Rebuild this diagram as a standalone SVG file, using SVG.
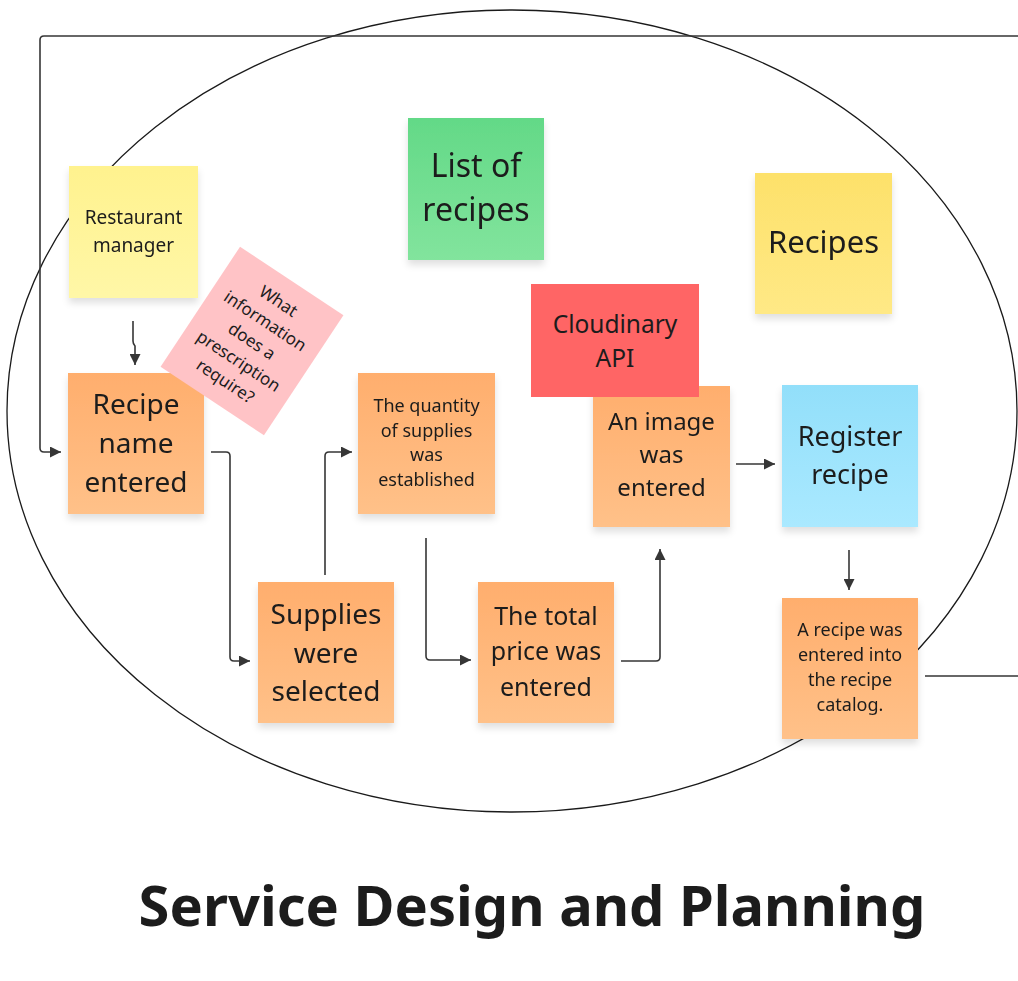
<svg xmlns="http://www.w3.org/2000/svg" width="1018" height="981" viewBox="0 0 1018 981">
<defs>
  <style>
    .t { font-family: "Noto Sans", "Open Sans", "DejaVu Sans", sans-serif; fill: #1c1c1c; text-anchor: middle; }
    .c { fill: none; stroke: #363636; stroke-width: 1.6; }
    .ca { fill: none; stroke: #363636; stroke-width: 1.6; marker-end: url(#arr); }
    .note { filter: url(#sh); }
  </style>
  <marker id="arr" viewBox="0 0 10 10" refX="10" refY="5" markerWidth="11" markerHeight="11" markerUnits="userSpaceOnUse" orient="auto">
    <path d="M0,0 L10,5 L0,10 z" fill="#363636"/>
  </marker>
  <filter id="sh" x="-20%" y="-20%" width="140%" height="150%">
    <feDropShadow dx="0" dy="5" stdDeviation="3.5" flood-color="#000" flood-opacity="0.12"/>
  </filter>
  <linearGradient id="gO" x1="0" y1="0" x2="0" y2="1"><stop offset="0" stop-color="#FFAE6D"/><stop offset="1" stop-color="#FFC189"/></linearGradient>
  <linearGradient id="gY" x1="0" y1="0" x2="0" y2="1"><stop offset="0" stop-color="#FFF28E"/><stop offset="1" stop-color="#FFF7A7"/></linearGradient>
  <linearGradient id="gY2" x1="0" y1="0" x2="0" y2="1"><stop offset="0" stop-color="#FDE16A"/><stop offset="1" stop-color="#FFE986"/></linearGradient>
  <linearGradient id="gG" x1="0" y1="0" x2="0" y2="1"><stop offset="0" stop-color="#63D987"/><stop offset="1" stop-color="#82E49D"/></linearGradient>
  <linearGradient id="gB" x1="0" y1="0" x2="0" y2="1"><stop offset="0" stop-color="#92DFFA"/><stop offset="1" stop-color="#AAE9FF"/></linearGradient>
</defs>
<rect width="1018" height="981" fill="#fff"/>

<ellipse id="boundary" cx="512" cy="411" rx="505" ry="401" fill="none" stroke="#1a1a1a" stroke-width="1.3"/>

<g id="connectors">
  <path class="ca" d="M133,321 V341 Q133,344 135,346 V365"/>
  <path class="ca" d="M211,452 H226 Q230,452 230,456 V657 Q230,661 234,661 H250"/>
  <path class="ca" d="M325,575 V456 Q325,452 329,452 H352"/>
  <path class="ca" d="M426,538 V656 Q426,660 430,660 H471"/>
  <path class="ca" d="M621,661 H656 Q660,661 660,657 V549"/>
  <path class="ca" d="M736,464 H775"/>
  <path class="ca" d="M849,550 V590"/>
  <path class="ca" d="M925,676 H1030 V36 H44 Q40,36 40,40 V448 Q40,452 44,452 H61"/>
</g>

<g id="restaurant-manager" class="note">
  <rect x="69" y="166" width="129" height="132" fill="url(#gY)"/>
  <text class="t" font-size="19" x="133.5" y="224">Restaurant</text>
  <text class="t" font-size="19" x="133.5" y="252">manager</text>
</g>

<g id="list-of-recipes" class="note">
  <rect x="408" y="118" width="136" height="142" fill="url(#gG)"/>
  <text class="t" font-size="32" x="476" y="177">List of</text>
  <text class="t" font-size="32" x="476" y="221">recipes</text>
</g>

<g id="recipes" class="note">
  <rect x="755" y="173" width="137" height="141" fill="url(#gY2)"/>
  <text class="t" font-size="31" x="823.5" y="253">Recipes</text>
</g>

<g id="recipe-name-entered" class="note">
  <rect x="68" y="373" width="136" height="141" fill="url(#gO)"/>
  <text class="t" font-size="28" x="136" y="414">Recipe</text>
  <text class="t" font-size="28" x="136" y="453">name</text>
  <text class="t" font-size="28" x="136" y="492">entered</text>
</g>

<g id="question" transform="translate(252,341) rotate(33.5)">
  <rect x="-62" y="-72" width="124" height="144" fill="#FFC3C6"/>
  <text class="t" font-size="17" x="0" y="-42">What</text>
  <text class="t" font-size="17" x="0" y="-18">information</text>
  <text class="t" font-size="17" x="0" y="6">does a</text>
  <text class="t" font-size="17" x="0" y="30">prescription</text>
  <text class="t" font-size="17" x="0" y="54">require?</text>
</g>

<g id="supplies-selected" class="note">
  <rect x="258" y="582" width="136" height="141" fill="url(#gO)"/>
  <text class="t" font-size="28" x="326" y="624">Supplies</text>
  <text class="t" font-size="28" x="326" y="663">were</text>
  <text class="t" font-size="28" x="326" y="701">selected</text>
</g>

<g id="quantity-established" class="note">
  <rect x="358" y="373" width="137" height="141" fill="url(#gO)"/>
  <text class="t" font-size="18" x="426.5" y="412">The quantity</text>
  <text class="t" font-size="18" x="426.5" y="437">of supplies</text>
  <text class="t" font-size="18" x="426.5" y="461">was</text>
  <text class="t" font-size="18" x="426.5" y="486">established</text>
</g>

<g id="total-price" class="note">
  <rect x="478" y="582" width="136" height="141" fill="url(#gO)"/>
  <text class="t" font-size="25" x="546" y="625">The total</text>
  <text class="t" font-size="25" x="546" y="660">price was</text>
  <text class="t" font-size="25" x="546" y="696">entered</text>
</g>

<g id="image-entered" class="note">
  <rect x="593" y="386" width="137" height="141" fill="url(#gO)"/>
  <text class="t" font-size="24" x="661.5" y="430">An image</text>
  <text class="t" font-size="24" x="661.5" y="463">was</text>
  <text class="t" font-size="24" x="661.5" y="496">entered</text>
</g>

<g id="cloudinary-api">
  <rect x="531" y="284" width="168" height="113" fill="#FF6565"/>
  <text class="t" font-size="24.5" x="615" y="333">Cloudinary</text>
  <text class="t" font-size="24.5" x="615" y="367">API</text>
</g>

<g id="register-recipe" class="note">
  <rect x="782" y="385" width="136" height="142" fill="url(#gB)"/>
  <text class="t" font-size="27" x="850" y="446">Register</text>
  <text class="t" font-size="27" x="850" y="484">recipe</text>
</g>

<g id="recipe-catalog" class="note">
  <rect x="782" y="598" width="136" height="141" fill="url(#gO)"/>
  <text class="t" font-size="18" x="850" y="636">A recipe was</text>
  <text class="t" font-size="18" x="850" y="661">entered into</text>
  <text class="t" font-size="18" x="850" y="686">the recipe</text>
  <text class="t" font-size="18" x="850" y="711">catalog.</text>
</g>

<g id="title">
  <text class="t" font-size="56" font-weight="bold" x="532" y="926">Service Design and Planning</text>
</g>
</svg>
